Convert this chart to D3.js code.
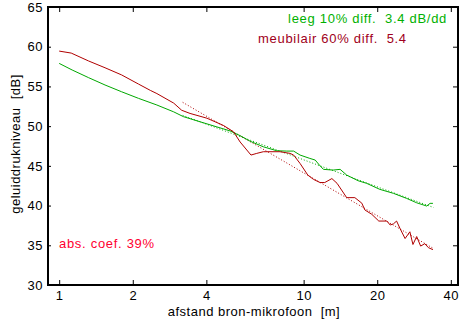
<!DOCTYPE html>
<html>
<head>
<meta charset="utf-8">
<script src="https://cdn.jsdelivr.net/npm/d3@7"></script>
<style>
    body { margin: 0; background: #fff; }
    #chart { width: 473px; height: 325px; }
    text { font-family: "Liberation Sans", Arial, sans-serif; white-space: pre; }
</style>
</head>
<body>
<div id="chart"></div>
<script>
// sound level vs. source-microphone distance, empty room and furnished room
const leegDist = [1.0, 1.13, 1.32, 1.54, 1.80, 2.11, 2.51, 2.94, 3.22, 3.77, 4.42, 5.0, 5.5, 6.04, 6.84, 7.77, 8.53, 9.1, 9.67, 10.6, 11.15, 11.6, 12.05, 13.2, 14.1, 15.0, 16.7, 18.1, 20.5, 23.3, 26.4, 29.0, 31.9, 32.9, 33.8];
const leegDb = [57.9, 57.07, 56.1, 55.18, 54.33, 53.5, 52.66, 51.8, 51.2, 50.55, 49.9, 49.4, 48.8, 48.1, 47.4, 46.9, 46.86, 46.86, 46.36, 45.94, 45.73, 45.1, 44.56, 44.47, 44.56, 43.84, 43.13, 42.8, 42.04, 41.54, 40.9, 40.35, 39.94, 40.28, 40.28];

const meubDist = [1.0, 1.12, 1.32, 1.54, 1.80, 2.11, 2.36, 2.51, 2.94, 3.17, 3.43, 4.02, 4.69, 5.16, 5.5, 6.09, 6.43, 6.84, 8.0, 8.8, 9.1, 9.67, 10.4, 10.97, 11.67, 12.2, 13.05, 13.7, 15.0, 16.2, 17.3, 17.8, 19.0, 20.3, 21.9, 22.6, 23.3, 24.0, 24.8, 26.0, 27.2, 28.0, 29.0, 30.1, 31.3, 32.4, 33.8];
const meubDb = [59.45, 59.2, 58.2, 57.35, 56.45, 55.3, 54.5, 54.1, 52.9, 52.0, 51.6, 51.0, 50.1, 49.3, 48.0, 46.36, 46.57, 46.78, 46.78, 46.57, 46.36, 45.3, 43.84, 43.3, 42.9, 42.9, 43.4, 42.8, 41.0, 41.0, 40.3, 39.45, 38.9, 38.05, 38.05, 37.55, 37.7, 38.05, 37.1, 35.85, 36.7, 35.1, 36.1, 34.9, 35.2, 34.7, 34.45];

// regression lines: range, level at start, slope in dB per distance doubling
const fitDist = [3.2, 34];
const leegFitStart = 51.35, leegSlope = 3.4;
const meubFitStart = 53.0, meubSlope = 5.4;

const xTicks = [1, 2, 4, 10, 20, 40];
const yTicks = [30, 35, 40, 45, 50, 55, 60, 65];

const green = "#00a800", darkRed = "#b00000";

const margin = { top: 7, right: 15, bottom: 40, left: 48 };
const width = 473 - margin.left - margin.right;
const height = 325 - margin.top - margin.bottom;

const svg = d3.select("#chart").append("svg")
    .attr("width", 473)
    .attr("height", 325);

const g = svg.append("g")
    .attr("transform", `translate(${margin.left},${margin.top})`);

const x = d3.scaleLog().domain([0.9, 42.8]).range([0, width]);
const y = d3.scaleLinear().domain([30, 65]).range([height, 0]);

// axes: ticks point inward on all four sides
const axisStyle = sel => {
    sel.selectAll("path").remove();
    sel.selectAll("line").attr("stroke", "#000");
    sel.selectAll("text")
        .attr("fill", "#000")
        .style("font-size", "13px")
        .style("letter-spacing", "0.5px");
};

g.append("g")
    .attr("transform", `translate(0,${height})`)
    .call(d3.axisBottom(x).tickValues(xTicks).tickFormat(d3.format("d")).tickSizeInner(-5).tickSizeOuter(0).tickPadding(6))
    .call(axisStyle);

g.append("g")
    .call(d3.axisTop(x).tickValues(xTicks).tickFormat("").tickSizeInner(-5).tickSizeOuter(0))
    .call(axisStyle);

g.append("g")
    .call(d3.axisLeft(y).tickValues(yTicks).tickSizeInner(-3).tickSizeOuter(0).tickPadding(5))
    .call(axisStyle);

g.append("g")
    .attr("transform", `translate(${width},0)`)
    .call(d3.axisRight(y).tickValues(yTicks).tickFormat("").tickSizeInner(-5).tickSizeOuter(0))
    .call(axisStyle);

// frame
g.append("rect")
    .attr("width", width)
    .attr("height", height)
    .attr("fill", "none")
    .attr("stroke", "#000")
    .attr("stroke-width", 2);

const line = d3.line()
    .x(d => x(d[0]))
    .y(d => y(d[1]));

const leegFit = [leegFitStart, leegFitStart - leegSlope * Math.log2(fitDist[1] / fitDist[0])];
const meubFit = [meubFitStart, meubFitStart - meubSlope * Math.log2(fitDist[1] / fitDist[0])];

g.append("path")
    .datum(d3.zip(fitDist, leegFit))
    .attr("d", line)
    .attr("fill", "none")
    .attr("stroke", green)
    .attr("stroke-width", 1)
    .attr("stroke-dasharray", "1,2");

g.append("path")
    .datum(d3.zip(fitDist, meubFit))
    .attr("d", line)
    .attr("fill", "none")
    .attr("stroke", darkRed)
    .attr("stroke-width", 1)
    .attr("stroke-dasharray", "1,2");

g.append("path")
    .datum(d3.zip(leegDist, leegDb))
    .attr("d", line)
    .attr("fill", "none")
    .attr("stroke", green)
    .attr("stroke-width", 1);

g.append("path")
    .datum(d3.zip(meubDist, meubDb))
    .attr("d", line)
    .attr("fill", "none")
    .attr("stroke", darkRed)
    .attr("stroke-width", 1);

// annotations
svg.append("text")
    .attr("x", 447)
    .attr("y", 23)
    .attr("text-anchor", "end")
    .attr("fill", "#00b000")
    .style("font-size", "13px")
    .style("letter-spacing", "0.7px")
    .text(`leeg 10% diff.  ${leegSlope} dB/dd`);

svg.append("text")
    .attr("x", 258)
    .attr("y", 43)
    .attr("fill", "#a00020")
    .style("font-size", "13px")
    .style("letter-spacing", "0.7px")
    .text(`meubilair 60% diff.  ${meubSlope}`);

svg.append("text")
    .attr("x", 59)
    .attr("y", 248)
    .attr("fill", "#ff0030")
    .style("font-size", "13px")
    .style("letter-spacing", "0.7px")
    .text("abs. coef. 39%");

// axis titles
svg.append("text")
    .attr("x", 254)
    .attr("y", 316)
    .attr("text-anchor", "middle")
    .style("font-size", "13px")
    .style("letter-spacing", "0.5px")
    .text("afstand bron-mikrofoon  [m]");

svg.append("text")
    .attr("transform", "translate(20,144) rotate(-90)")
    .attr("text-anchor", "middle")
    .style("font-size", "13px")
    .style("letter-spacing", "0.5px")
    .text("geluiddrukniveau  [dB]");
</script>
</body>
</html>
